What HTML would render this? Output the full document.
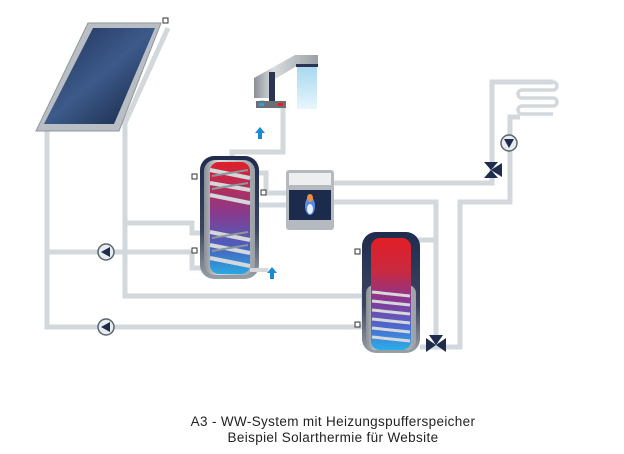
<!DOCTYPE html>
<html><head><meta charset="utf-8"><style>
html,body{margin:0;padding:0;background:#fff;width:624px;height:454px;overflow:hidden}
svg{display:block}
</style></head><body>
<svg width="624" height="454" viewBox="0 0 624 454" xmlns="http://www.w3.org/2000/svg">
<defs>
<linearGradient id="panel" x1="0" y1="0" x2="1" y2="1">
<stop offset="0" stop-color="#1e2f55"/><stop offset="0.5" stop-color="#3c5a8a"/><stop offset="1" stop-color="#15223f"/></linearGradient>
<linearGradient id="t1" x1="0" y1="0" x2="0" y2="1">
<stop offset="0" stop-color="#e02028"/><stop offset="0.45" stop-color="#8a3a8c"/><stop offset="0.75" stop-color="#4a5fc0"/><stop offset="1" stop-color="#2aa8e0"/></linearGradient>
<linearGradient id="t2" x1="0" y1="0" x2="0" y2="1">
<stop offset="0" stop-color="#e21e26"/><stop offset="0.3" stop-color="#c82a40"/><stop offset="0.55" stop-color="#8a3590"/><stop offset="0.8" stop-color="#4a6ad0"/><stop offset="1" stop-color="#2ab0e8"/></linearGradient>
<linearGradient id="metal" x1="0" y1="0" x2="1" y2="0">
<stop offset="0" stop-color="#8a9096"/><stop offset="0.3" stop-color="#d8dcde"/><stop offset="1" stop-color="#9aa0a6"/></linearGradient>
<linearGradient id="shell" x1="0" y1="0" x2="0" y2="1">
<stop offset="0" stop-color="#1f2c4e"/><stop offset="0.6" stop-color="#3a4560"/><stop offset="1" stop-color="#9aa0a6"/></linearGradient>
<linearGradient id="water" x1="0" y1="0" x2="0" y2="1">
<stop offset="0" stop-color="#a8d8f0"/><stop offset="1" stop-color="#e8f6fc"/></linearGradient>
</defs>
<g fill="none" stroke="#d2d8db" stroke-width="5" stroke-linejoin="miter">
<polyline points="168,28 125,123 125,296 368,296"/>
<polyline points="47,128 47,327 364,327"/>
<polyline points="47,252 192,252 192,268 205,268"/>
<polyline points="125,223 192,223 192,233 205,233"/>
<polyline points="232,160 232,152 283,152 283,108"/>
<polyline points="262,108 262,100"/>
<polyline points="250,173 266,173 266,193 290,193"/>
<polyline points="250,205 290,205"/>
<polyline points="330,183 492,183 492,82 553,82"/>
<polyline points="330,202 436,202 436,345"/>
<polyline points="418,240 436,240"/>
<polyline points="420,347 460,347 460,202 510,202 510,117 520,117"/>
<path d="M553,82 a4,4 0 0 1 0,8 L522,90 a4,4 0 0 0 0,8 L553,98 a4,4 0 0 1 0,8 L522,106 a4,4 0 0 0 0,8 L553,114" stroke-width="3.5"/>
<polyline points="364,327 364,290 376,290"/>
<polyline points="368,296 368,345 380,345"/>
</g>
<polygon points="88,23 161,23 119,131 36,131" fill="#b8bec3" stroke="#8e969c" stroke-width="1"/>
<polygon points="93,28 155,28 114,124 44,124" fill="url(#panel)"/>
<rect x="163" y="18" width="5" height="5" fill="#fff" stroke="#333" stroke-width="1"/>
<!-- tank1 -->
<rect x="200" y="156" width="59" height="123" rx="14" fill="url(#shell)"/>
<rect x="204" y="160" width="51" height="115" rx="11" fill="url(#metal)"/>
<rect x="210" y="162" width="40" height="112" rx="9" fill="url(#t1)"/>
<g stroke="#d4d8da" stroke-width="4">
<line x1="210" y1="170" x2="250" y2="178"/><line x1="210" y1="183" x2="250" y2="190"/><line x1="210" y1="195" x2="250" y2="203"/>
<line x1="210" y1="232" x2="250" y2="240"/><line x1="210" y1="245" x2="250" y2="253"/><line x1="210" y1="258" x2="250" y2="266"/>
<line x1="250" y1="270" x2="268" y2="270"/>
</g>
<g stroke="#8e969c" stroke-width="2">
<line x1="212" y1="176" x2="248" y2="170"/><line x1="212" y1="189" x2="248" y2="183"/>
<line x1="212" y1="238" x2="248" y2="232"/><line x1="212" y1="251" x2="248" y2="245"/>
</g>
<rect x="192" y="174" width="5" height="5" fill="#fff" stroke="#333"/>
<rect x="192" y="248" width="5" height="5" fill="#fff" stroke="#333"/>
<rect x="261" y="190" width="5" height="5" fill="#fff" stroke="#333"/>
<!-- tank2 -->
<rect x="362" y="232" width="58" height="121" rx="14" fill="url(#shell)"/>
<rect x="366" y="285" width="50" height="65" rx="8" fill="url(#metal)"/>
<rect x="371" y="238" width="40" height="112" rx="9" fill="url(#t2)"/>
<g stroke="#d4d8da" stroke-width="3">
<line x1="372" y1="292" x2="410" y2="296"/><line x1="372" y1="301" x2="410" y2="305"/><line x1="372" y1="310" x2="410" y2="314"/>
<line x1="372" y1="319" x2="410" y2="323"/><line x1="372" y1="328" x2="410" y2="332"/><line x1="372" y1="337" x2="410" y2="341"/>
</g>
<rect x="355" y="249" width="5" height="5" fill="#fff" stroke="#333"/>
<rect x="355" y="322" width="5" height="5" fill="#fff" stroke="#333"/>
<!-- boiler -->
<rect x="286" y="170" width="48" height="60" rx="3" fill="#b4babf"/>
<rect x="289" y="173" width="42" height="12" fill="#eceeef"/>
<rect x="289" y="190" width="42" height="30" fill="#1c2a4c"/>
<ellipse cx="310" cy="206" rx="5" ry="9" fill="#5a8ae8"/>
<ellipse cx="310" cy="209" rx="3" ry="5" fill="#e8f0ff"/>
<ellipse cx="310" cy="198" rx="3" ry="4" fill="#e89040"/>
<!-- tap -->
<polygon points="254,78 295,55 318,55 318,64 300,64 270,82 270,98 254,98" fill="url(#metal)"/>
<rect x="269" y="72" width="6" height="30" fill="#2a3452"/>
<rect x="296" y="64" width="22" height="3" fill="#2a3452"/>
<rect x="297" y="67" width="20" height="42" fill="url(#water)"/>
<rect x="256" y="101" width="30" height="7" fill="#6a7076"/>
<rect x="259" y="103" width="5" height="3" fill="#2aa0e0"/>
<rect x="278" y="103" width="5" height="3" fill="#e02028"/>
<g fill="#1a8ad4">
<polygon points="260,127 255,133 258,133 258,139 262,139 262,133 265,133"/>
<polygon points="272,267 267,273 270,273 270,279 274,279 274,273 277,273"/>
</g>
<g stroke="#5a6472" stroke-width="1.5" fill="#e8ecef">
<circle cx="106" cy="252" r="8"/><circle cx="106" cy="327" r="8"/><circle cx="509" cy="143" r="8"/>
</g>
<g fill="#1f2c4e">
<polygon points="101,252 110,247 110,257"/><polygon points="101,327 110,322 110,332"/><polygon points="509,148 504,139 514,139"/>
<polygon points="484,162 498,162 491,170"/><polygon points="484,178 498,178 491,170"/><polygon points="502,163 502,177 491,170"/>
<polygon points="426,338 426,352 436,345"/><polygon points="446,338 446,352 436,345"/><polygon points="429,335 443,335 436,345"/>
</g>
<g font-family="Liberation Sans, sans-serif" font-size="13.5" letter-spacing="0.35" fill="#222" text-anchor="middle">
<text x="333" y="426">A3 - WW-System mit Heizungspufferspeicher</text>
<text x="333" y="442">Beispiel Solarthermie für Website</text>
</g>
</svg>
</body></html>
